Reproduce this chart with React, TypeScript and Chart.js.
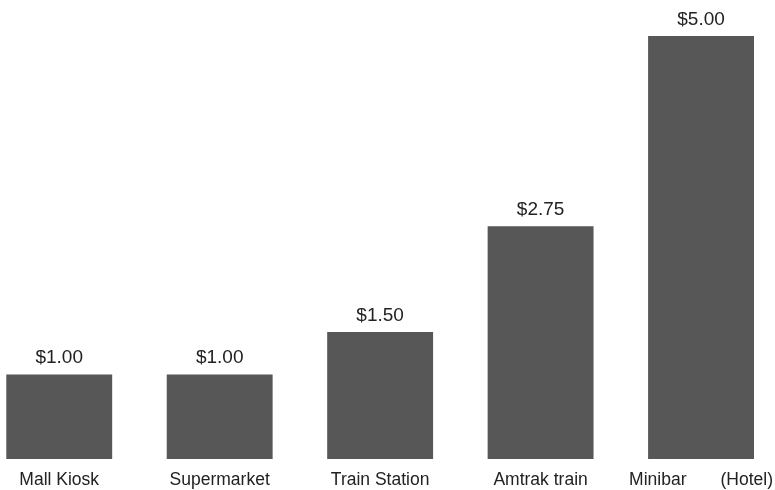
import React, { useEffect, useRef } from "react";
import { Chart, registerables } from "chart.js";

Chart.register(...registerables);

const categories = ["Mall Kiosk", "Supermarket", "Train Station", "Amtrak train", "Minibar       (Hotel)"];
const prices = [1.0, 1.0, 1.5, 2.75, 5.0];
const valueLabels = ["$1.00", "$1.00", "$1.50", "$2.75", "$5.00"];

const FONT = "'Liberation Sans', Arial, Helvetica, sans-serif";

const valueLabelPlugin = {
  id: "valueLabels",
  afterDatasetsDraw(chart: any) {
    const ctx = chart.ctx;
    const meta = chart.getDatasetMeta(0);
    ctx.save();
    ctx.font = `19px ${FONT}`;
    ctx.fillStyle = "#222222";
    ctx.textAlign = "center";
    ctx.textBaseline = "alphabetic";
    meta.data.forEach((bar: any, i: number) => {
      ctx.fillText(valueLabels[i], bar.x, bar.y - 11);
    });
    ctx.restore();
  },
};

export default function App() {
  const ref = useRef<HTMLCanvasElement>(null);
  useEffect(() => {
    if (!ref.current) return;
    const chart = new Chart(ref.current, {
      type: "bar",
      data: {
        labels: categories,
        datasets: [
          {
            data: prices,
            backgroundColor: "#575757",
            borderWidth: 0,
            categoryPercentage: 1,
            barPercentage: 0.66,
          },
        ],
      },
      options: {
        animation: false,
        responsive: false,
        maintainAspectRatio: false,
        layout: { padding: { top: 36, left: 0, right: 0, bottom: 0 } },
        plugins: { legend: { display: false }, tooltip: { enabled: false } },
        scales: {
          x: {
            grid: { display: false, drawTicks: false },
            border: { display: false },
            ticks: {
              color: "#222222",
              font: { family: FONT, size: 17.5 },
              padding: 11,
              maxRotation: 0,
              autoSkip: false,
            },
            afterFit: (scale: any) => {
              scale.height = 31;
            },
          },
          y: {
            display: false,
            min: 0,
            max: 5,
          },
        },
      },
      plugins: [valueLabelPlugin],
    });
    return () => chart.destroy();
  }, []);
  return (
    <div style={{ position: "absolute", left: 0, top: 0, width: 775, height: 490, overflow: "hidden" }}>
      <div style={{ position: "absolute", left: -21, top: 0, width: 805, height: 490 }}>
        <canvas ref={ref} width={805} height={490} style={{ width: 805, height: 490 }} />
      </div>
    </div>
  );
}
